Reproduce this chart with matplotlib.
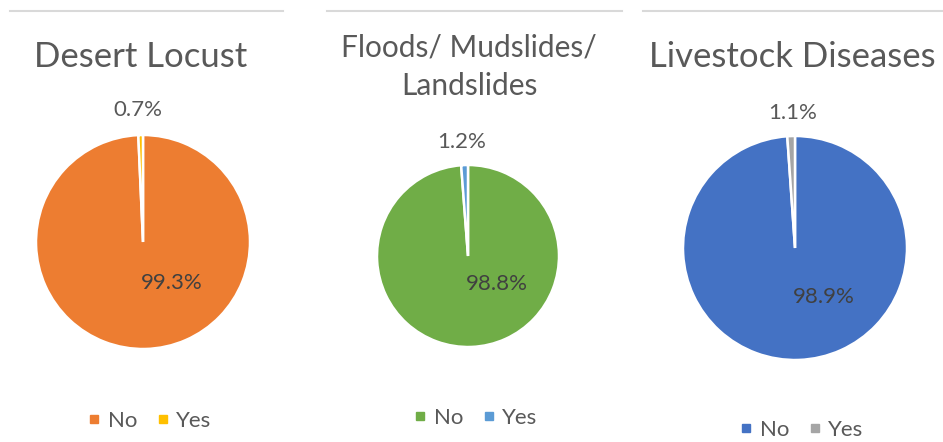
import matplotlib
matplotlib.use("Agg")
import matplotlib.pyplot as plt
from matplotlib.lines import Line2D

plt.rcParams['font.family'] = ['Lato', 'DejaVu Sans']

W, H = 943, 442

titles = ["Desert Locust", "Floods/ Mudslides/\nLandslides", "Livestock Diseases"]
categories = ["No", "Yes"]
no_values = [99.3, 98.8, 98.9]
yes_values = [0.7, 1.2, 1.1]
colors = [("#ED7D31", "#FFC000"), ("#70AD47", "#5B9BD5"), ("#4472C4", "#A5A5A5")]

# panel layout in pixels: pie centre, radius, title centre, legend centre, header rule span
centres = [(143, 242), (468, 256), (795, 248)]
radii = [107, 91, 112]
title_xy = [(141, 57), (469, 67), (792, 57)]
title_size = [25, 21.5, 25]
legend_pos = [(150, 421), (476, 418), (802, 430)]
rules = [(10, 283), (327, 622), (643, 943)]
no_label_off = [(29, 41), (29, 28), (29, 49)]
yes_label_off = [(-5, -132), (-6, -114), (-2, -135)]

TEXT = "#595959"

fig = plt.figure(figsize=(W / 100, H / 100), dpi=100)
fig.patch.set_facecolor("white")


def fx(x):
    return x / W


def fy(y):
    return 1 - y / H


for i in range(3):
    cx, cy = centres[i]
    r = radii[i]
    ax = fig.add_axes([fx(cx - r), fy(cy + r), 2 * r / W, 2 * r / H])
    ax.pie([no_values[i], yes_values[i]], colors=colors[i], startangle=90,
           counterclock=False, radius=1,
           wedgeprops=dict(edgecolor="white", linewidth=1.8))
    ax.set_xlim(-1, 1)
    ax.set_ylim(-1, 1)
    ax.set_aspect("auto")
    ax.axis("off")

    dx, dy = no_label_off[i]
    ax.text(dx / r, -dy / r, f"{no_values[i]:.1f}%", ha="center", va="center",
            fontsize=16, color="#404040")
    dx, dy = yes_label_off[i]
    ax.text(dx / r, -dy / r, f"{yes_values[i]:.1f}%", ha="center", va="center",
            fontsize=16, color=TEXT, clip_on=False)

    tx, ty = title_xy[i]
    fig.text(fx(tx), fy(ty), titles[i], ha="center", va="center",
             fontsize=title_size[i], color=TEXT, linespacing=1.45)

    handles = [Line2D([], [], marker="s", linestyle="none", markersize=6,
                      markerfacecolor=c, markeredgecolor=c) for c in colors[i]]
    lx, ly = legend_pos[i]
    fig.legend(handles, categories, loc="center", bbox_to_anchor=(fx(lx), fy(ly)),
               ncol=2, frameon=False, fontsize=16, labelcolor=TEXT,
               handlelength=0.5, handletextpad=0.35, columnspacing=0.9)

    x0, x1 = rules[i]
    fig.add_artist(Line2D([fx(x0), fx(x1)], [fy(11), fy(11)], color="#D9D9D9",
                          linewidth=1.5, transform=fig.transFigure))

fig.savefig("out.png", dpi=100, facecolor="white")
